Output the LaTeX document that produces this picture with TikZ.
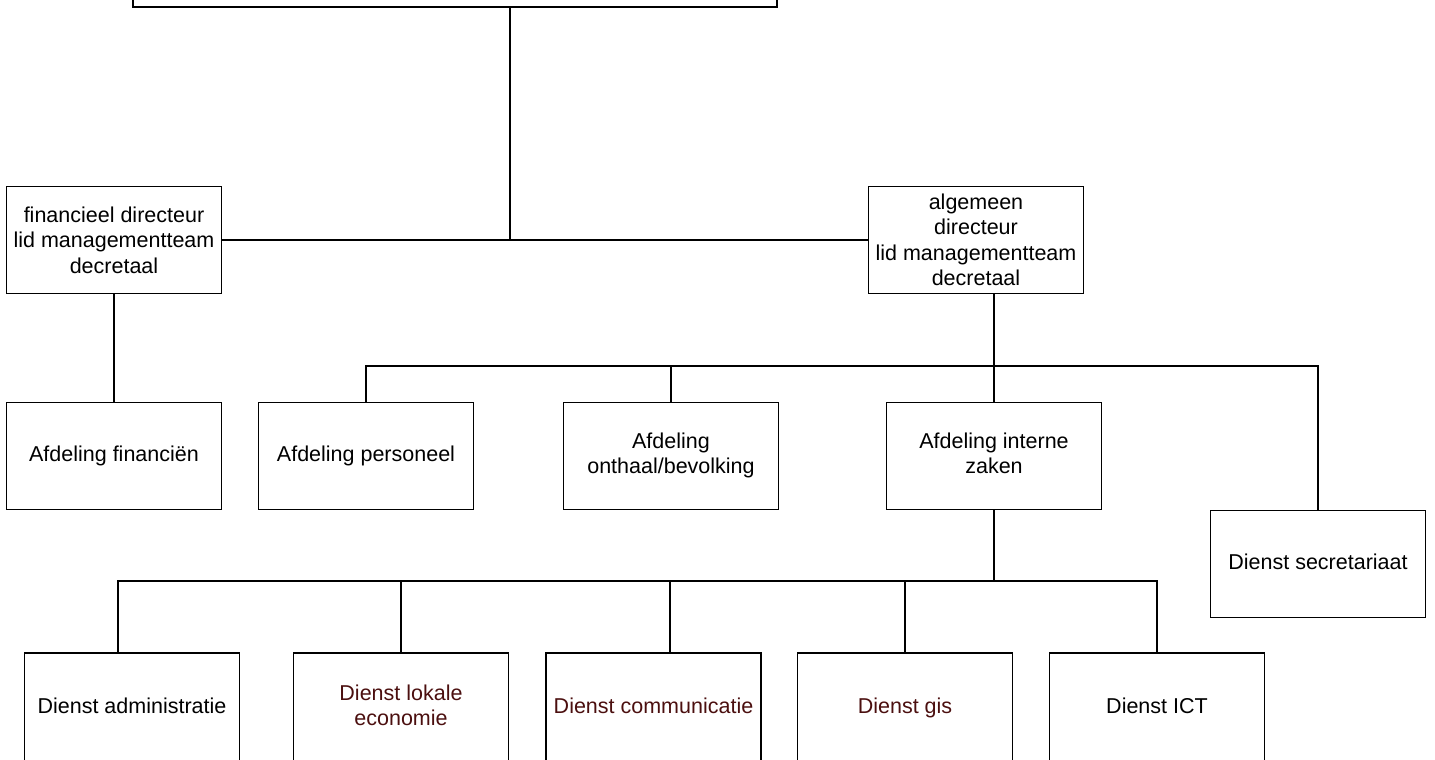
\documentclass[tikz,border=0pt]{standalone}
\usepackage{fontspec}
\setmainfont{Liberation Sans}
\definecolor{dred}{RGB}{75,15,15}
\begin{document}
\begin{tikzpicture}[x=1pt,y=-1pt,
  lbl/.style={font=\fontsize{21.5}{25.5}\selectfont, align=center, inner sep=0pt},
  box/.style={lbl, draw, line width=1.6pt, minimum width=215pt, minimum height=107pt, inner sep=2pt},
  dbox/.style={draw, line width=1.6pt, minimum width=215pt, minimum height=127pt, inner sep=0pt},
  conn/.style={draw, line width=1.6pt}]
\useasboundingbox (0,0) rectangle (1435,760);
\clip (0,0) rectangle (1435,760);
\node[box, minimum width=644pt, minimum height=120pt] (top) at (455,-53) {};
\node[box] (fin) at (114,240) {financieel directeur\\lid managementteam\\decretaal};
\node[box] (alg) at (976,240) {algemeen\\directeur\\lid managementteam\\decretaal};
\node[box] (afin) at (114,456) {Afdeling financiën\strut};
\node[box] (apers) at (366,456) {Afdeling personeel\strut};
\node[box] (aonth) at (671,456) {Afdeling\strut\\onthaal/bevolking\strut};
\node[box] (aint) at (994,456) {Afdeling interne\strut\\zaken\strut};
\node[box] (dsec) at (1318,564) {Dienst secretariaat\strut};
\node[dbox] (dadm) at (132,716.5) {};
\node[lbl] (tadm) at (132,708) {Dienst administratie\strut};
\node[dbox] (dlok) at (401,716.5) {};
\node[lbl, text=dred] (tlok) at (401,708) {Dienst lokale\strut\\economie\strut};
\node[dbox] (dcom) at (653.5,716.5) {};
\node[lbl, text=dred] (tcom) at (653.5,708) {Dienst communicatie\strut};
\node[dbox] (dgis) at (905,716.5) {};
\node[lbl, text=dred] (tgis) at (905,708) {Dienst gis\strut};
\node[dbox] (dict) at (1157,716.5) {};
\node[lbl] (tict) at (1157,708) {Dienst ICT\strut};
\coordinate (j1) at (510,240);
\coordinate (h2) at (0,366);
\coordinate (h3) at (0,581);
\coordinate (c1) at (118,0);
\coordinate (c2) at (670,0);
\draw[conn] (top.south -| j1) -- (j1);
\draw[conn] (fin.east) -- (alg.west);
\draw[conn] (fin.south) -- (afin.north);
\draw[conn] (alg.south -| aint.north) -- (aint.north);
\draw[conn] (apers.north) -- (apers.north |- h2) -| (dsec.north);
\draw[conn] (aonth.north) -- (aonth.north |- h2);
\draw[conn] (aint.south) -- (aint.south |- h3);
\draw[conn] (dadm.north -| c1) -- (c1 |- h3) -| (dict.north);
\draw[conn] (dlok.north) -- (dlok.north |- h3);
\draw[conn] (dcom.north -| c2) -- (c2 |- h3);
\draw[conn] (dgis.north) -- (dgis.north |- h3);
\end{tikzpicture}
\end{document}
